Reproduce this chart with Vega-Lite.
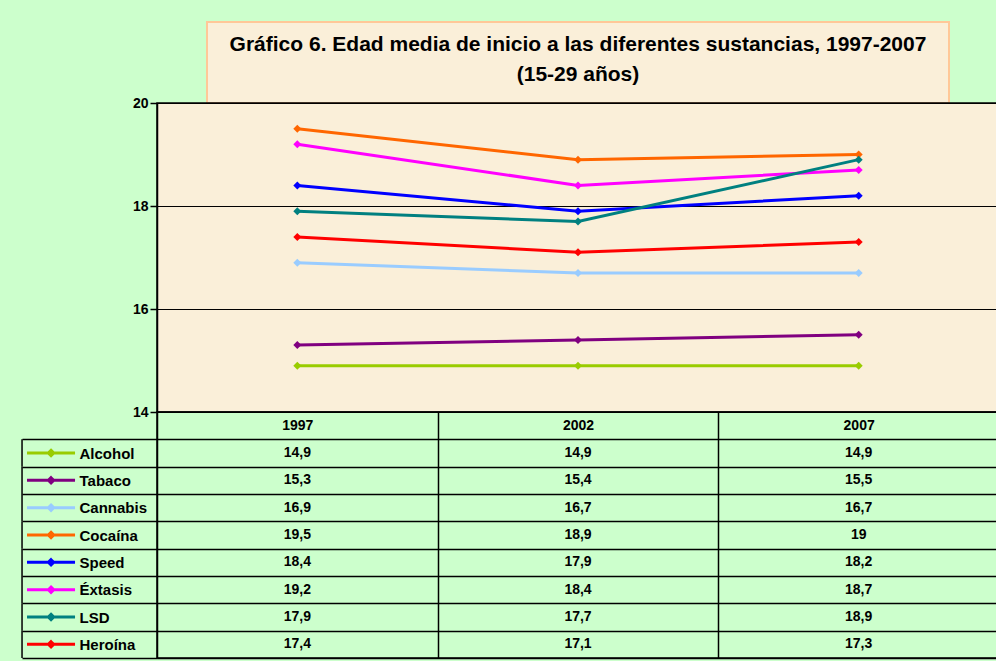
{
  "$schema": "https://vega.github.io/schema/vega-lite/v6.json",
  "background": "#CCFFCC",
  "padding": {"left": 18, "top": 21, "right": 0, "bottom": 0},
  "config": {
    "font": "Liberation Sans",
    "locale": {"number": {"decimal": ",", "thousands": ".", "grouping": [3], "currency": ["", " €"]}}
  },
  "data": {
    "values": [
      {"substance": "Alcohol", "year": "1997", "value": 14.9},
      {"substance": "Alcohol", "year": "2002", "value": 14.9},
      {"substance": "Alcohol", "year": "2007", "value": 14.9},
      {"substance": "Tabaco", "year": "1997", "value": 15.3},
      {"substance": "Tabaco", "year": "2002", "value": 15.4},
      {"substance": "Tabaco", "year": "2007", "value": 15.5},
      {"substance": "Cannabis", "year": "1997", "value": 16.9},
      {"substance": "Cannabis", "year": "2002", "value": 16.7},
      {"substance": "Cannabis", "year": "2007", "value": 16.7},
      {"substance": "Cocaína", "year": "1997", "value": 19.5},
      {"substance": "Cocaína", "year": "2002", "value": 18.9},
      {"substance": "Cocaína", "year": "2007", "value": 19.0},
      {"substance": "Speed", "year": "1997", "value": 18.4},
      {"substance": "Speed", "year": "2002", "value": 17.9},
      {"substance": "Speed", "year": "2007", "value": 18.2},
      {"substance": "Éxtasis", "year": "1997", "value": 19.2},
      {"substance": "Éxtasis", "year": "2002", "value": 18.4},
      {"substance": "Éxtasis", "year": "2007", "value": 18.7},
      {"substance": "LSD", "year": "1997", "value": 17.9},
      {"substance": "LSD", "year": "2002", "value": 17.7},
      {"substance": "LSD", "year": "2007", "value": 18.9},
      {"substance": "Heroína", "year": "1997", "value": 17.4},
      {"substance": "Heroína", "year": "2002", "value": 17.1},
      {"substance": "Heroína", "year": "2007", "value": 17.3}
    ]
  },
  "bounds": "flush",
  "center": true,
  "spacing": 0,
  "vconcat": [
    {
      "data": {"values": [{}]},
      "width": 742,
      "height": 81,
      "view": {"fill": "#FAEFD9", "stroke": "#FFC898", "strokeWidth": 2},
      "mark": {
        "type": "text",
        "text": ["Gráfico 6. Edad media de inicio a las diferentes sustancias, 1997-2007", "(15-29 años)"],
        "fontSize": 21,
        "fontWeight": "bold",
        "lineHeight": 30,
        "align": "center",
        "baseline": "middle",
        "color": "#000000",
        "dy": -18
      }
    },
    {
      "width": 842,
      "height": 309,
      "view": {"fill": "#FAEFD9", "stroke": "#000000", "strokeWidth": 1.5},
      "mark": {"type": "line", "strokeWidth": 3, "point": {"shape": "diamond", "size": 64, "filled": true}},
      "encoding": {
        "x": {
          "field": "year", "type": "nominal", "bandPosition": 0.5,
          "scale": {"type": "band", "paddingInner": 0, "paddingOuter": 0},
          "axis": null
        },
        "y": {
          "field": "value", "type": "quantitative",
          "scale": {"domain": [14, 20], "nice": false, "zero": false},
          "axis": {
            "values": [14, 16, 18, 20], "title": null,
            "grid": true, "gridColor": "#000000", "gridWidth": 1, "gridOpacity": 1,
            "tickColor": "#000000", "tickSize": 7, "tickWidth": 1.5,
            "domainColor": "#000000", "domainWidth": 1.5,
            "labelFontSize": 14, "labelFontWeight": "bold", "labelColor": "#000000", "labelPadding": 2
          }
        },
        "color": {
          "field": "substance", "type": "nominal",
          "scale": {
            "domain": ["Alcohol", "Tabaco", "Cannabis", "Cocaína", "Speed", "Éxtasis", "LSD", "Heroína"],
            "range": ["#99CC00", "#800080", "#99CCFF", "#FF6600", "#0000FF", "#FF00FF", "#008080", "#FF0000"]
          },
          "legend": null
        }
      }
    },
    {
      "width": 842,
      "height": 246,
      "view": {"stroke": "#000000", "strokeWidth": 1.5},
      "encoding": {
        "x": {
          "field": "year", "type": "nominal",
          "scale": {"type": "band", "paddingInner": 0, "paddingOuter": 0},
          "axis": {
            "orient": "top", "title": null, "tickBand": "extent",
            "grid": true, "gridColor": "#000000", "gridWidth": 1.5, "gridOpacity": 1,
            "ticks": false, "domain": false,
            "labelAngle": 0, "labelBaseline": "middle", "labelPadding": -13.7,
            "labelFontSize": 14, "labelFontWeight": "bold", "labelColor": "#000000"
          }
        },
        "y": {
          "field": "substance", "type": "nominal",
          "scale": {
            "domain": ["hdr", "Alcohol", "Tabaco", "Cannabis", "Cocaína", "Speed", "Éxtasis", "LSD", "Heroína"],
            "paddingInner": 0, "paddingOuter": 0
          },
          "axis": {
            "values": ["Alcohol", "Tabaco", "Cannabis", "Cocaína", "Speed", "Éxtasis", "LSD", "Heroína"],
            "title": null, "tickBand": "extent",
            "grid": true, "gridColor": "#000000", "gridWidth": 1.5, "gridOpacity": 1,
            "ticks": true, "tickSize": 135, "tickColor": "#000000", "tickWidth": 1.5,
            "domain": false,
            "labelAlign": "left", "labelBaseline": "middle", "labelPadding": -57,
            "labelFontSize": 15, "labelFontWeight": "bold", "labelColor": "#000000"
          }
        }
      },
      "layer": [
        {
          "mark": {"type": "text", "fontSize": 14, "fontWeight": "bold", "color": "#000000"},
          "encoding": {"text": {"field": "value", "type": "quantitative", "format": ".1~f"}}
        },
        {
          "transform": [{"filter": "datum.year == '1997'"}],
          "mark": {
            "type": "point",
            "shape": "M-1,0H1M0,-0.11L0.11,0L0,0.11L-0.11,0Z",
            "size": 2304,
            "filled": true,
            "opacity": 1,
            "strokeWidth": 3,
            "xOffset": -246.3
          },
          "encoding": {
            "color": {
              "field": "substance", "type": "nominal",
              "scale": {
                "domain": ["Alcohol", "Tabaco", "Cannabis", "Cocaína", "Speed", "Éxtasis", "LSD", "Heroína"],
                "range": ["#99CC00", "#800080", "#99CCFF", "#FF6600", "#0000FF", "#FF00FF", "#008080", "#FF0000"]
              },
              "legend": null
            },
            "stroke": {
              "field": "substance", "type": "nominal",
              "scale": {
                "domain": ["Alcohol", "Tabaco", "Cannabis", "Cocaína", "Speed", "Éxtasis", "LSD", "Heroína"],
                "range": ["#99CC00", "#800080", "#99CCFF", "#FF6600", "#0000FF", "#FF00FF", "#008080", "#FF0000"]
              },
              "legend": null
            }
          }
        },
        {
          "transform": [{"filter": "datum.year == '1997'"}],
          "mark": {
            "type": "point",
            "shape": "M0,-1V1",
            "size": 747,
            "filled": false,
            "opacity": 1,
            "stroke": "#000000",
            "strokeWidth": 1.5,
            "xOffset": -275.3
          }
        }
      ]
    }
  ]
}
